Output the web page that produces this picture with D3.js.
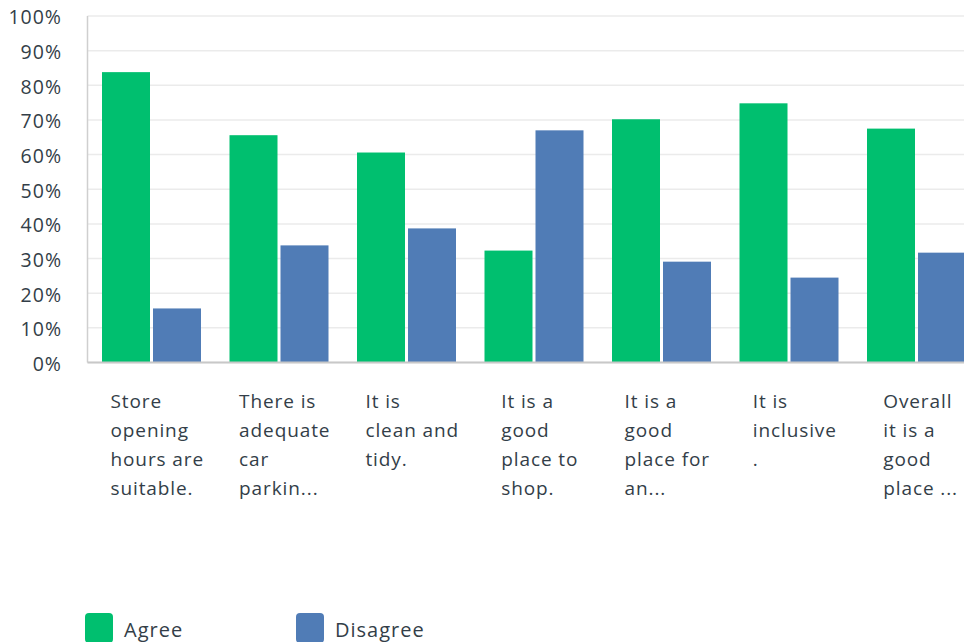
<!DOCTYPE html>
<html>
<head>
<meta charset="utf-8">
<script src="https://cdn.jsdelivr.net/npm/d3@7"></script>
<style>
  body { margin: 0; background: #fff; }
  text { font-family: "Open Sans", "Noto Sans", sans-serif; fill: #333e48; }
</style>
</head>
<body>
<div id="chart"></div>
<script>
// chart data
var categories = ["q1", "q2", "q3", "q4", "q5", "q6", "q7"];
var labelLines = [
  ["Store", "opening", "hours are", "suitable."],
  ["There is", "adequate", "car", "parkin..."],
  ["It is", "clean and", "tidy."],
  ["It is a", "good", "place to", "shop."],
  ["It is a", "good", "place for", "an..."],
  ["It is", "inclusive", "."],
  ["Overall", "it is a", "good", "place ..."]
];
var seriesNames = ["Agree", "Disagree"];
var agree = [83.8, 65.6, 60.6, 32.3, 70.2, 74.8, 67.5];
var disagree = [15.6, 33.8, 38.7, 67.0, 29.1, 24.5, 31.7];
var yTicks = [0, 10, 20, 30, 40, 50, 60, 70, 80, 90, 100];
var colors = ["#00bf6f", "#507cb6"];

var width = 964,
    height = 642;
var plot = { left: 87.5, top: 16, bottom: 362.5, step: 127.5 };

var svg = d3.select("#chart")
  .append("svg")
    .attr("width", width)
    .attr("height", height);

var x = d3.scaleBand()
  .domain(categories)
  .range([plot.left, plot.left + plot.step * categories.length]);

var xSeries = d3.scaleBand()
  .domain(seriesNames)
  .range([14.5, 113.5])
  .paddingInner(3 / 51);

var y = d3.scaleLinear()
  .domain([0, 100])
  .range([plot.bottom, plot.top]);

// gridlines
svg.append("g")
  .attr("class", "grid")
  .selectAll("line")
  .data(yTicks)
  .enter()
    .append("line")
    .attr("x1", plot.left)
    .attr("x2", width)
    .attr("y1", function(d) { return y(d); })
    .attr("y2", function(d) { return y(d); })
    .attr("stroke", "#ebebeb")
    .attr("stroke-width", 1.5);

// y axis labels
var yAxis = svg.append("g")
  .attr("transform", "translate(62,0)")
  .call(d3.axisLeft(y).tickValues(yTicks).tickSize(0).tickPadding(0)
    .tickFormat(function(d) { return d + "%"; }));
yAxis.select(".domain").remove();
yAxis.selectAll("text")
  .attr("font-size", "19.5px")
  .attr("letter-spacing", "1px")
  .attr("dy", "0.4em")
  .style("font-family", "'Open Sans', sans-serif")
  .attr("fill", "#333e48");

// bars
var rows = categories.map(function(c, i) {
  return { cat: c, values: [agree[i], disagree[i]] };
});

var groups = svg.append("g")
  .selectAll("g")
  .data(rows)
  .enter()
    .append("g")
    .attr("transform", function(d) { return "translate(" + x(d.cat) + ",0)"; });

groups.selectAll("rect")
  .data(function(d) {
    return d.values.map(function(v, j) { return { name: seriesNames[j], value: v, idx: j }; });
  })
  .enter()
    .append("rect")
    .attr("x", function(d) { return xSeries(d.name); })
    .attr("width", xSeries.bandwidth())
    .attr("y", function(d) { return y(d.value); })
    .attr("height", function(d) { return plot.bottom - y(d.value); })
    .attr("fill", function(d) { return colors[d.idx]; });

// axis lines
svg.append("line")
  .attr("x1", plot.left).attr("x2", plot.left)
  .attr("y1", plot.top).attr("y2", plot.bottom)
  .attr("stroke", "#cfcfcf")
  .attr("stroke-width", 1.5);
svg.append("line")
  .attr("x1", plot.left).attr("x2", width)
  .attr("y1", plot.bottom).attr("y2", plot.bottom)
  .attr("stroke", "#c8c8c8")
  .attr("stroke-width", 2);

// category labels, left aligned, block roughly centred under the group
var labels = svg.append("g")
  .selectAll("text")
  .data(categories)
  .enter()
    .append("text")
    .attr("font-size", "19px")
    .attr("letter-spacing", "0.9px");

labels.each(function(c, i) {
  var t = d3.select(this);
  labelLines[i].forEach(function(line, k) {
    t.append("tspan")
      .attr("y", 408 + k * 29)
      .text(line);
  });
  var maxW = d3.max(t.selectAll("tspan").nodes(), function(n) { return n.getComputedTextLength(); });
  var cx = x(c) + x.bandwidth() / 2 + 6;
  var left = Math.min(cx - maxW / 2, width - 6 - maxW);
  t.selectAll("tspan").attr("x", left);
});

// legend
var legend = svg.append("g")
  .selectAll("g")
  .data(seriesNames)
  .enter()
    .append("g")
    .attr("transform", function(d, i) { return "translate(" + (85 + i * 211) + ",613)"; });

legend.append("rect")
  .attr("width", 28)
  .attr("height", 30)
  .attr("rx", 4)
  .attr("fill", function(d, i) { return colors[i]; });

legend.append("text")
  .attr("x", 39)
  .attr("y", 24)
  .attr("font-size", "20px")
  .attr("letter-spacing", "1px")
  .text(function(d) { return d; });
</script>
</body>
</html>
